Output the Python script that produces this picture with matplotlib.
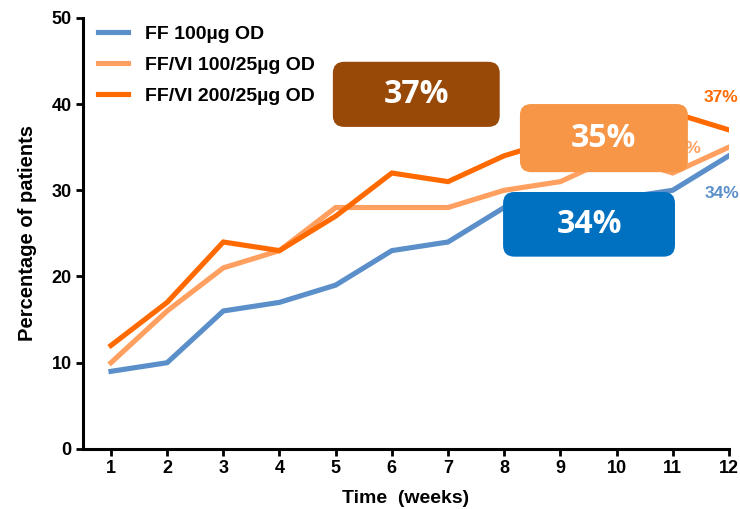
import matplotlib
matplotlib.use("Agg")
import matplotlib.pyplot as plt
from matplotlib.patches import FancyBboxPatch

plt.rcParams['font.family'] = ['Liberation Sans', 'DejaVu Sans']

weeks = [1, 2, 3, 4, 5, 6, 7, 8, 9, 10, 11, 12]
ff100 = [9, 10, 16, 17, 19, 23, 24, 28, 29, 29, 30, 34]
ffvi100 = [10, 16, 21, 23, 28, 28, 28, 30, 31, 34, 32, 35]
ffvi200 = [12, 17, 24, 23, 27, 32, 31, 34, 36, 38, 39, 37]
series_names = ["FF 100\u00b5g OD", "FF/VI 100/25\u00b5g OD", "FF/VI 200/25\u00b5g OD"]
line_colors = ["#5B8FC9", "#FFA060", "#FF6A00"]
end_labels = ["34%", "35%", "37%"]
box_labels = ["37%", "35%", "34%"]
box_colors = ["#984807", "#F79646", "#0070C0"]

fig = plt.figure(figsize=(7.4, 5.09), dpi=100)
ax = fig.add_axes([0.112, 0.118, 0.873, 0.847])

for ys, c, n in zip([ff100, ffvi100, ffvi200], line_colors, series_names):
    ax.plot(weeks, ys, color=c, lw=3.7, label=n, solid_joinstyle='miter', zorder=3)

ax.set_xlim(0.5, 12)
ax.set_ylim(0, 50)
ax.set_xticks(weeks)
ax.set_yticks([0, 10, 20, 30, 40, 50])
for s in ['top', 'right']:
    ax.spines[s].set_visible(False)
for s in ['left', 'bottom']:
    ax.spines[s].set_linewidth(2.2)
ax.tick_params(width=2, length=5, labelsize=13, pad=3)
for lab in ax.get_xticklabels() + ax.get_yticklabels():
    lab.set_fontweight('bold')
ax.set_xlabel("Time  (weeks)", fontsize=14, fontweight='bold')
ax.xaxis.set_label_coords(0.5, -0.095)
ax.set_ylabel("Percentage of patients", fontsize=14.5, fontweight='bold')
ax.yaxis.set_label_coords(-0.071, 0.5)

leg = fig.legend(*ax.get_legend_handles_labels(), loc='upper left',
                 bbox_to_anchor=(98 / 740, 1 - 25.5 / 509), frameon=False,
                 prop={'weight': 'bold', 'size': 14}, handlelength=1.55,
                 handletextpad=0.85, labelspacing=0.68, borderpad=0, borderaxespad=0)

# end labels
ax.text(11.86, 40.8, end_labels[2], color=line_colors[2], fontsize=12.5, fontweight='bold',
        ha='center', va='center', clip_on=False, zorder=2)
ax.text(11.88, 29.6, end_labels[0], color=line_colors[0], fontsize=12.5, fontweight='bold',
        ha='center', va='center', clip_on=False, zorder=2)
ax.text(11.2, 34.9, end_labels[1], color=line_colors[1], fontsize=12.5, fontweight='bold',
        ha='center', va='center', clip_on=False, zorder=2)

# callout boxes (x0, x1, y0, y1) in data units
boxes = [(4.95, 7.92, 37.35, 44.9), (8.28, 11.27, 32.1, 40.0), (7.98, 11.04, 22.3, 29.8)]
aspect = 56.18 / 8.62
for (x0, x1, y0, y1), lab, col in zip(boxes, box_labels, box_colors):
    p = FancyBboxPatch((x0, y0), x1 - x0, y1 - y0,
                       boxstyle="round,pad=0,rounding_size=0.2",
                       mutation_aspect=aspect, facecolor=col, edgecolor='none',
                       zorder=5, clip_on=False)
    ax.add_patch(p)
    ax.text((x0 + x1) / 2, (y0 + y1) / 2, lab, color='white', fontsize=23,
            fontweight='bold', family=['Open Sans', 'DejaVu Sans'],
            ha='center', va='center', zorder=6)

fig.savefig("out.png", dpi=100)
